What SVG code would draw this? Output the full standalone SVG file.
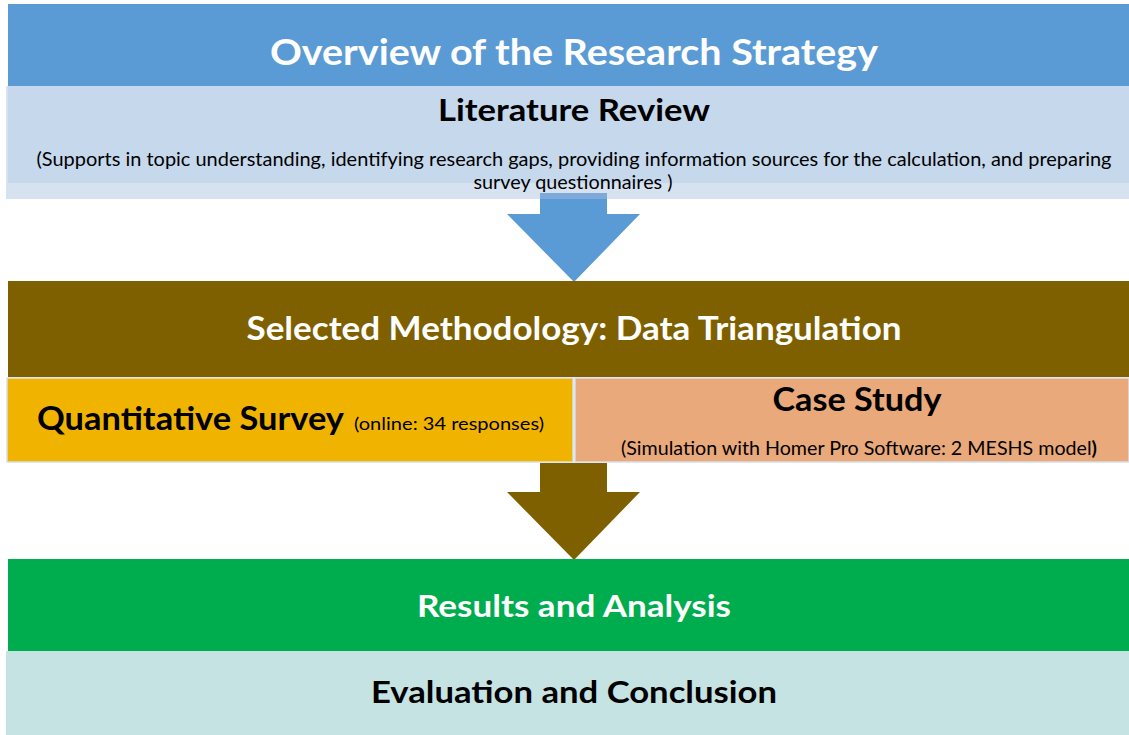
<svg xmlns="http://www.w3.org/2000/svg" width="1129" height="735" viewBox="0 0 1129 735">
  <style>
    .t { font-family: Lato, "Open Sans", "Liberation Sans", sans-serif; text-anchor: middle; }
    .b { font-weight: bold; }
    .w { fill: #ffffff; }
    .k { fill: #000000; }
    .cell { stroke: #d6dfea; stroke-width: 1.5; }
  </style>
  <rect x="0" y="0" width="1129" height="735" fill="#ffffff"/>

  <!-- header band -->
  <g id="header">
    <rect x="8" y="4" width="1121" height="82" fill="#5b9bd5"/>
    <text class="t b w" x="574" y="65" font-size="37" textLength="608" lengthAdjust="spacingAndGlyphs">Overview of the Research Strategy</text>
  </g>

  <!-- literature review -->
  <g id="literature-review">
    <rect x="6" y="86" width="1123" height="113" fill="#d6e2f0"/>
    <rect x="8" y="86" width="1121" height="97" fill="#c5d8ec"/>
    <!-- shaft top showing through the lower strip -->
    <rect x="540" y="193" width="67" height="6" fill="#7eaadb"/>
    <text class="t b k" x="574" y="121" font-size="30" textLength="272" lengthAdjust="spacingAndGlyphs">Literature Review</text>
    <text class="t k" x="574" y="166" font-size="19" textLength="1075" lengthAdjust="spacingAndGlyphs">(Supports in topic understanding, identifying research gaps, providing information sources for the calculation, and preparing</text>
    <text class="t k" x="573" y="189" font-size="19" textLength="199" lengthAdjust="spacingAndGlyphs">survey questionnaires )</text>
  </g>

  <!-- connectors -->
  <g id="connectors">
    <polygon points="540,199 607,199 607,214 640,214 574,282 507,214 540,214" fill="#5b9bd5"/>
    <polygon points="540,463 607,463 607,492 640,492 574,560 507,492 540,492" fill="#7f6000"/>
  </g>

  <!-- methodology -->
  <g id="methodology">
    <rect x="8" y="281" width="1121" height="96" fill="#7f6000"/>
    <text class="t b w" x="574" y="340" font-size="32" textLength="655" lengthAdjust="spacingAndGlyphs">Selected Methodology: Data Triangulation</text>
  </g>

  <!-- quantitative survey -->
  <g id="quantitative-survey">
    <rect class="cell" x="7" y="378" width="566" height="84" fill="#f0b400"/>
    <text class="k" x="37" y="430" font-size="32" font-weight="bold" font-family="Lato, 'Open Sans', 'Liberation Sans', sans-serif" textLength="307" lengthAdjust="spacingAndGlyphs">Quantitative Survey</text>
    <text class="k" x="354" y="430" font-size="18" font-family="Lato, 'Open Sans', 'Liberation Sans', sans-serif" textLength="190" lengthAdjust="spacingAndGlyphs">(online: 34 responses)</text>
  </g>

  <!-- case study -->
  <g id="case-study">
    <rect class="cell" x="575" y="378" width="554" height="84" fill="#e9a97a"/>
    <text class="t b k" x="857" y="411" font-size="32" textLength="169" lengthAdjust="spacingAndGlyphs">Case Study</text>
    <text class="t k" x="859" y="455" font-size="19" textLength="476" lengthAdjust="spacingAndGlyphs">(Simulation with Homer Pro Software: 2 MESHS model<tspan font-weight="bold">)</tspan></text>
  </g>

  <!-- results -->
  <g id="results">
    <rect x="8" y="559" width="1121" height="92" fill="#00ad4e"/>
    <text class="t b w" x="574" y="617" font-size="31" textLength="314" lengthAdjust="spacingAndGlyphs">Results and Analysis</text>
  </g>

  <!-- evaluation -->
  <g id="evaluation">
    <rect x="6" y="651" width="1123" height="84" fill="#c5e3e3"/>
    <text class="t b k" x="574" y="703" font-size="31" textLength="406" lengthAdjust="spacingAndGlyphs">Evaluation and Conclusion</text>
  </g>
</svg>
